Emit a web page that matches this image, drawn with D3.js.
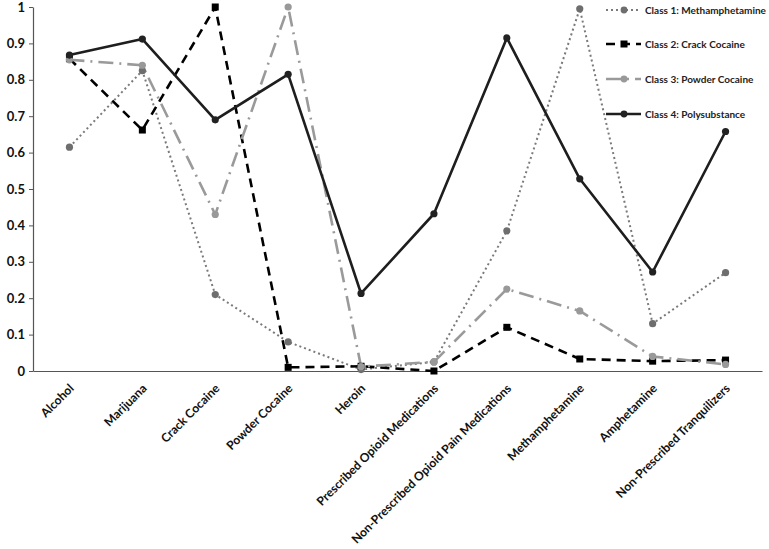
<!DOCTYPE html>
<html><head><meta charset="utf-8">
<script src="https://cdn.jsdelivr.net/npm/d3@7"></script>
<style>body{margin:0;background:#fff}svg{display:block}text{font-family:Lato,"Open Sans",sans-serif;font-weight:bold}</style>
</head><body><svg id="c" width="769" height="549"></svg>
<script>
const categories = ["Alcohol","Marijuana","Crack Cocaine","Powder Cocaine","Heroin","Prescribed Opioid Medications","Non-Prescribed Opioid Pain Medications","Methamphetamine","Amphetamine","Non-Prescribed Tranquilizers"];
const seriesNames = ["Class 1: Methamphetamine","Class 2: Crack Cocaine","Class 3: Powder Cocaine","Class 4: Polysubstance"];
const class1 = [0.615,0.825,0.21,0.08,0.004,0.025,0.385,0.995,0.13,0.27];
const class2 = [0.858,0.662,1.0,0.01,0.013,0.0,0.12,0.033,0.027,0.03];
const class3 = [0.855,0.84,0.43,1.0,0.012,0.025,0.225,0.165,0.04,0.018];
const class4 = [0.868,0.912,0.69,0.815,0.213,0.432,0.915,0.528,0.272,0.658];
const yTicks = [0,0.1,0.2,0.3,0.4,0.5,0.6,0.7,0.8,0.9,1];

const styles = [
  {values:class1, color:"#7a7a7a", width:2, dash:"2,3", marker:"circle", mcolor:"#6e6e6e"},
  {values:class2, color:"#000", width:2.6, dash:"9,6", marker:"square", mcolor:"#000"},
  {values:class3, color:"#9a9a9a", width:2.6, dash:"15,6,2,6", marker:"circle", mcolor:"#999"},
  {values:class4, color:"#1e1e1e", width:2.6, dash:null, marker:"circle", mcolor:"#222"}
];

const svg = d3.select("#c");
const m = {l:33, r:7, t:7, b:178};
const W = 769, H = 549;
const x = d3.scaleBand().domain(categories).range([m.l, W-m.r]);
const y = d3.scaleLinear().domain([0,1]).range([H-m.b, m.t]);

// y axis
const ya = svg.append("g").attr("transform",`translate(${m.l},0)`)
  .call(d3.axisLeft(y).tickValues(yTicks).tickFormat(d=>d===0||d===1?String(d):d3.format(".1f")(d)).tickSize(4).tickSizeOuter(0));
ya.select(".domain").attr("stroke","#555").attr("stroke-width",1.2);
ya.selectAll(".tick line").attr("stroke","#555");
ya.selectAll("text").attr("font-size",13).attr("fill","#111").attr("x",-8);

// x axis
const xa = svg.append("g").attr("transform",`translate(0,${H-m.b})`)
  .call(d3.axisBottom(x).tickSize(0).tickSizeOuter(0));
xa.select(".domain").attr("stroke","#555").attr("stroke-width",1.2);
xa.selectAll("text").attr("font-size",12.1).attr("fill","#111")
  .attr("text-anchor","end").attr("dy",0)
  .attr("transform","translate(3,16) rotate(-45)");

const line = d3.line().x((d,i)=>x(categories[i])+x.bandwidth()/2).y(d=>y(d));

styles.forEach(s=>{
  svg.append("path").datum(s.values).attr("d",line).attr("fill","none")
    .attr("stroke",s.color).attr("stroke-width",s.width)
    .attr("stroke-dasharray",s.dash).attr("stroke-linejoin","round");
});
styles.forEach(s=>{
  const g = svg.append("g");
  s.values.forEach((v,i)=>{
    const cx = x(categories[i])+x.bandwidth()/2, cy = y(v);
    if(s.marker==="circle") g.append("circle").attr("cx",cx).attr("cy",cy).attr("r",3.6).attr("fill",s.mcolor);
    else g.append("rect").attr("x",cx-3.5).attr("y",cy-3.5).attr("width",7).attr("height",7).attr("fill",s.mcolor);
  });
});

// legend
const lg = svg.append("g");
const ly = [10,44,79,114];
styles.forEach((s,i)=>{
  const yy = ly[i];
  lg.append("line").attr("x1",606).attr("x2",641).attr("y1",yy).attr("y2",yy)
    .attr("stroke",s.color).attr("stroke-width",s.width).attr("stroke-dasharray",s.dash);
  if(s.marker==="circle") lg.append("circle").attr("cx",624).attr("cy",yy).attr("r",3.4).attr("fill",s.mcolor);
  else lg.append("rect").attr("x",620.5).attr("y",yy-3.5).attr("width",7).attr("height",7).attr("fill",s.mcolor);
  lg.append("text").attr("x",645).attr("y",yy).attr("dy","0.35em").attr("font-size",10).attr("fill","#222").text(seriesNames[i]);
});
</script></body></html>
